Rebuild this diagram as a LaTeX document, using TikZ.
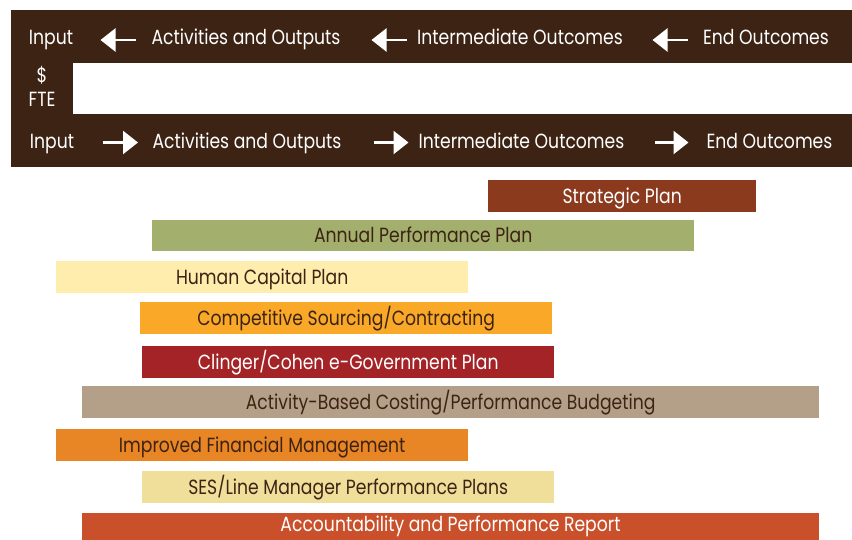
\documentclass[tikz,border=0pt]{standalone}
\usepackage{fontspec}
\setmainfont{Poppins}[FakeStretch=0.84]
\usetikzlibrary{arrows.meta}
\definecolor{dkbrown}{HTML}{3D2314}
\definecolor{cStrat}{HTML}{8B3A1E}
\definecolor{cAnnual}{HTML}{A2AF6D}
\definecolor{cHuman}{HTML}{FEEDAD}
\definecolor{cComp}{HTML}{F9A828}
\definecolor{cCling}{HTML}{A32326}
\definecolor{cABC}{HTML}{B4A088}
\definecolor{cFin}{HTML}{E88524}
\definecolor{cSES}{HTML}{EFDF9A}
\definecolor{cAcc}{HTML}{C9502A}
\tikzset{
  hdr/.style={text=white, anchor=base, inner sep=0pt},
  flowarrow/.style={draw=white, line width=2.5pt, -{Triangle[width=23pt,length=15pt]}},
  bar/.style={anchor=north west, inner sep=0pt, minimum height=31.7pt, text height=14.3pt, text depth=0pt},
  darktext/.style={text=dkbrown},
  lighttext/.style={text=white},
}
\begin{document}
\begin{tikzpicture}[x=1pt,y=-1pt, font=\fontsize{20.5}{23}\selectfont]
\useasboundingbox (0,0) rectangle (852,539);
% header band
\fill[dkbrown] (11,10) rectangle (852,167);
\fill[white] (73,63) rectangle (852,114);
% top row
\node[hdr] (i1) at (51,44) {Input};
\node[hdr] (a1) at (246,44) {Activities and Outputs};
\node[hdr] (m1) at (520,44) {Intermediate Outcomes};
\node[hdr] (e1) at (766,44) {End Outcomes};
\coordinate (t1s) at (136,40); \coordinate (t1e) at (100.5,40);
\coordinate (t2s) at (407,40); \coordinate (t2e) at (371.5,40);
\coordinate (t3s) at (688,40); \coordinate (t3e) at (652.5,40);
\draw[flowarrow] (t1s) -- (t1e);
\draw[flowarrow] (t2s) -- (t2e);
\draw[flowarrow] (t3s) -- (t3e);
% middle
\node[hdr] (d) at (42,82) {\$};
\node[hdr] (f) at (42,106) {FTE};
% bottom row
\node[hdr] (i2) at (52,148) {Input};
\node[hdr] (a2) at (247,148) {Activities and Outputs};
\node[hdr] (m2) at (521.5,148) {Intermediate Outcomes};
\node[hdr] (e2) at (769.5,148) {End Outcomes};
\coordinate (b1s) at (102.7,142.5); \coordinate (b1e) at (138,142.5);
\coordinate (b2s) at (374,142.5); \coordinate (b2e) at (408.5,142.5);
\coordinate (b3s) at (655,142.5); \coordinate (b3e) at (688.5,142.5);
\draw[flowarrow] (b1s) -- (b1e);
\draw[flowarrow] (b2s) -- (b2e);
\draw[flowarrow] (b3s) -- (b3e);
% bars
\node[bar, fill=cStrat, lighttext, minimum width=268pt] (sp) at (488,180) {Strategic Plan};
\node[bar, fill=cAnnual, darktext, minimum width=542pt] (ap) at (152,219.3) {Annual Performance Plan};
\node[bar, fill=cHuman, darktext, minimum width=412pt] (hc) at (56,261) {Human Capital Plan};
\node[bar, fill=cComp, darktext, minimum width=412pt] (cs) at (140,302) {Competitive Sourcing/Contracting};
\node[bar, fill=cCling, lighttext, minimum width=412pt] (cc) at (142,346) {Clinger/Cohen e-Government Plan};
\node[bar, fill=cABC, darktext, minimum width=737pt] (ab) at (82,386) {Activity-Based Costing/Performance Budgeting};
\node[bar, fill=cFin, darktext, minimum width=412pt] (fm) at (56,429) {Improved Financial Management};
\node[bar, fill=cSES, darktext, minimum width=412pt] (ses) at (142,471) {SES/Line Manager Performance Plans};
\fill[cAcc] (82,513) rectangle (819,545);
\node[lighttext, anchor=base, inner sep=0pt] (apr) at (450.5,531.5) {Accountability and Performance Report};
\end{tikzpicture}
\end{document}
